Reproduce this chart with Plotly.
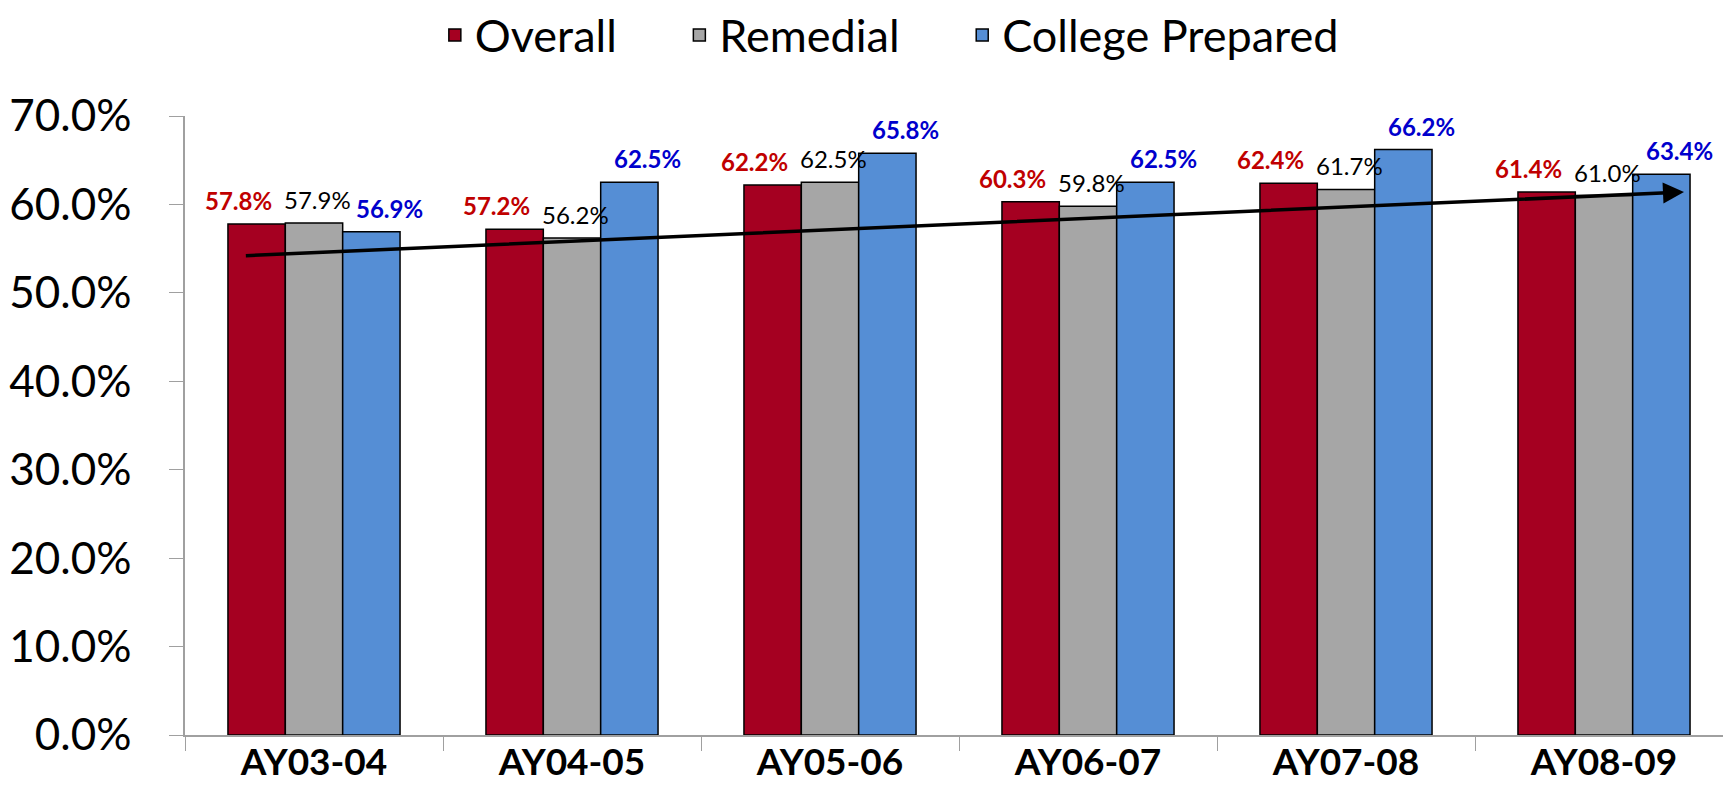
import plotly.graph_objects as go

categories = ["AY03-04", "AY04-05", "AY05-06", "AY06-07", "AY07-08", "AY08-09"]
overall = [57.8, 57.2, 62.2, 60.3, 62.4, 61.4]
remedial = [57.9, 56.2, 62.5, 59.8, 61.7, 61.0]
college_prepared = [56.9, 62.5, 65.8, 62.5, 66.2, 63.4]
y_ticks = [0, 10, 20, 30, 40, 50, 60, 70]
y_tick_labels = ["0.0%", "10.0%", "20.0%", "30.0%", "40.0%", "50.0%", "60.0%", "70.0%"]
series_names = ["Overall", "Remedial", "College Prepared"]

# hand-drawn trend arrow (category index, percent)
arrow_start = (-0.27, 54.2)
arrow_end = (5.31, 61.4)

FONT = "Lato"
PAD = "\u00a0" * 5  # extra spacing between legend entries

# (values, bar colour, label colour, label weight, label x offset px, legend suffix)
styles = [
    (overall, "#A50021", "#C00000", "bold", -76, PAD),
    (remedial, "#A6A6A6", "#000000", "normal", 3, PAD),
    (college_prepared, "#558ED5", "#0000CC", "bold", 75, ""),
]

fig = go.Figure()
for name, (vals, color, lcolor, weight, dx, suffix) in zip(series_names, styles):
    fig.add_trace(go.Bar(
        name=name + suffix, x=categories, y=vals,
        marker=dict(color=color, line=dict(color="#000000", width=1.5)),
    ))
    for cat, v in zip(categories, vals):
        fig.add_annotation(
            x=cat, y=v, xref="x", yref="y",
            text=f"{v:.1f}%", showarrow=False,
            xanchor="center", yanchor="bottom", xshift=dx, yshift=7,
            font=dict(size=24, family=FONT, color=lcolor, weight=weight),
        )

fig.add_annotation(
    x=arrow_end[0], y=arrow_end[1], ax=arrow_start[0], ay=arrow_start[1],
    xref="x", yref="y", axref="x", ayref="y",
    showarrow=True, arrowhead=2, arrowwidth=3.5, arrowsize=1.2, arrowcolor="#000000", text="",
)

fig.update_layout(
    width=1731, height=798,
    margin=dict(l=177, r=6, t=108, b=71, autoexpand=False),
    plot_bgcolor="white", paper_bgcolor="white",
    barmode="group", bargap=0.333, bargroupgap=0,
    font=dict(family=FONT, color="#000000"),
    legend=dict(
        orientation="h", x=0.455, xanchor="center", xref="paper",
        y=0.966, yref="container", yanchor="middle",
        font=dict(size=45, family=FONT), itemwidth=30, traceorder="normal",
    ),
    showlegend=True,
)

fig.update_xaxes(
    showline=True, linecolor="#A0A0A0", linewidth=1.5,
    ticks="outside", ticklen=14, tickcolor="#A0A0A0", tickson="boundaries",
    tickfont=dict(size=37, family=FONT, weight="bold"),
    ticklabelstandoff=-6,
    showgrid=False, automargin=False,
)
fig.update_yaxes(
    range=[0, 70], tickvals=y_ticks, ticktext=y_tick_labels,
    showline=True, linecolor="#A0A0A0", linewidth=1.5,
    ticks="outside", ticklen=14, tickcolor="#A0A0A0",
    tickfont=dict(size=44, family=FONT),
    ticklabelstandoff=29,
    showgrid=False, zeroline=False, automargin=False,
)

fig.write_html("out.html")
